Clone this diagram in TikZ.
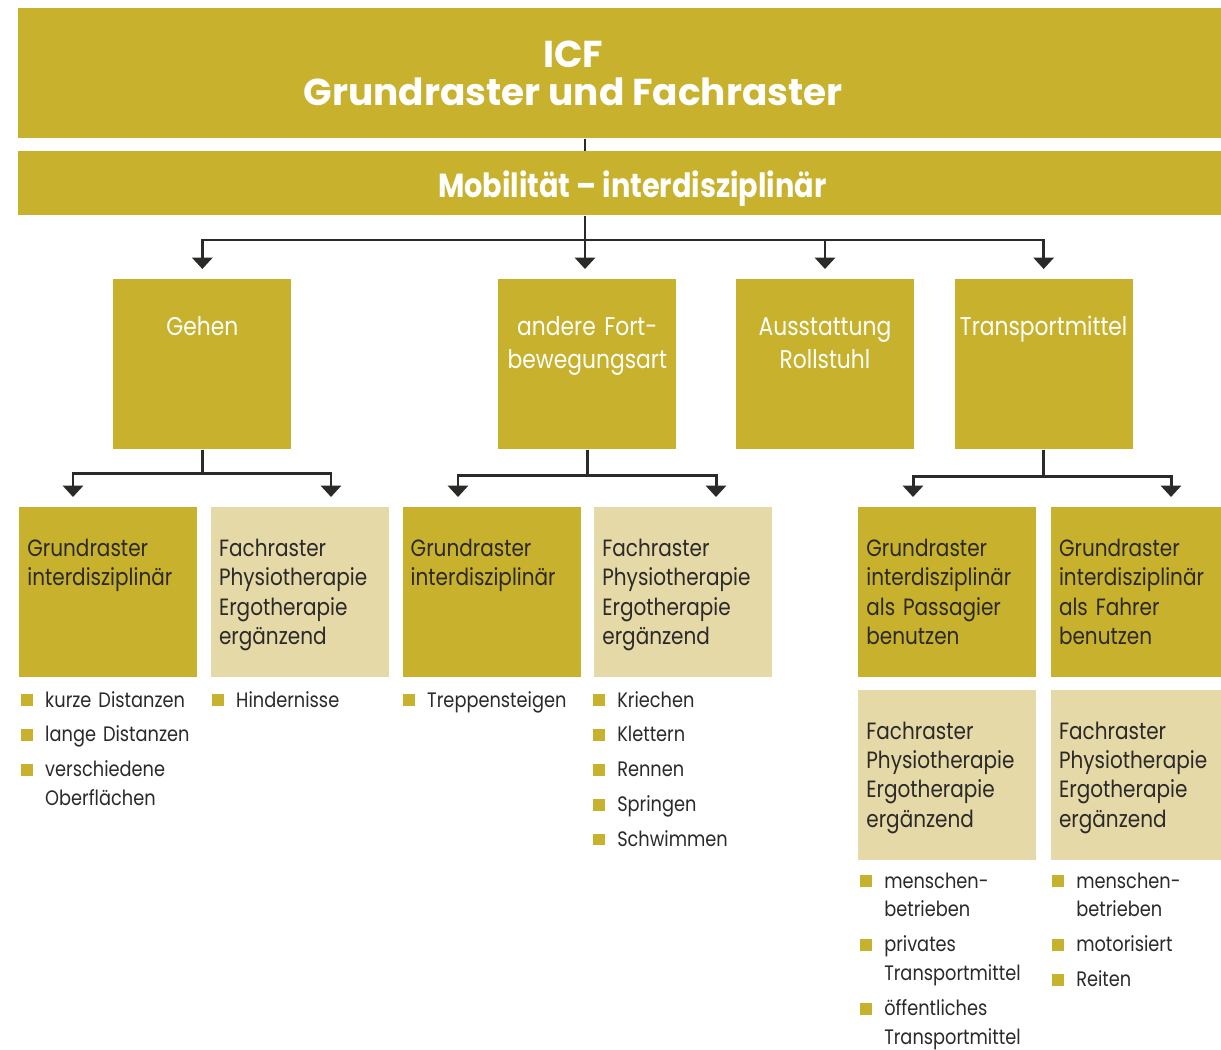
\documentclass[tikz,border=0pt]{standalone}
\usepackage{fontspec}
\setmainfont{Poppins}
\newfontfamily\schmal{Poppins}[FakeStretch=0.85, Ligatures=TeX]
\newfontfamily\schmalfett{Poppins}[FakeStretch=0.86, UprightFont=*-Bold, Ligatures=TeX]
\usetikzlibrary{positioning}
\usetikzlibrary{arrows.meta}

\definecolor{gold}{RGB}{200,177,44}
\definecolor{sand}{RGB}{229,217,167}
\definecolor{tinte}{RGB}{43,42,41}

\newcommand{\bul}{\makebox[13.6pt][l]{\textcolor{gold}{\rule[0.4pt]{6.8pt}{6.8pt}}}}
\newcommand{\ein}{\hspace*{13.6pt}}

\begin{document}
\begin{tikzpicture} [x=0.02cm, y=-0.02cm,
    kopf/.style = {fill=gold, text=white, inner sep=0, minimum width=24.56cm, anchor=north west},
    oben/.style = {fill=gold, text=white, inner xsep=0, inner ysep=0, text width=3.56cm, align=center,
        text height=1.12cm, text depth=2.28cm, font=\schmal\fontsize{14.6}{18.7}\selectfont, anchor=north west},
    grund/.style = {fill=gold, text=tinte, inner xsep=0.16cm, inner ysep=0, text width=3.24cm, align=left,
        text height=0.98cm, text depth=2.42cm, font=\schmal\fontsize{13.4}{16.7}\selectfont, anchor=north west},
    fach/.style = {grund, fill=sand},
    liste/.style = {text=tinte, inner sep=0, text width=3.4cm, align=left, anchor=base west,
        font=\schmal\fontsize{11.9}{16.4}\selectfont},
    linie/.style = {draw=tinte, line width=1.7pt},
    pfeil/.style = {linie, -{Triangle[width=11.5pt, length=6.5pt]}, shorten >=0.2cm}]
        \useasboundingbox (0,0) rectangle (1221,1050);

        %Kopf
        \node[kopf, minimum height=2.6cm,
            label={[name=titel, xshift=-1.18cm, text=white, align=center,
                font=\fontsize{21.3}{21.5}\selectfont\bfseries]center:ICF\\Grundraster und Fachraster}]
            (title) at (18,8) {};
        \node[kopf, text height=0.92cm, text depth=0.36cm, font=\schmalfett\fontsize{19}{20}\selectfont]
            (mobil) at (18,151) {Mobilität – interdisziplinär};

        %Ebene 2
        \node[oben] (gehen) at (113,279) {Gehen};
        \node[oben] (fort) at (498,279) {andere Fort-\\bewegungsart};
        \node[oben, right = 1.18cm of fort] (roll) {Ausstattung\\Rollstuhl};
        \node[oben, right = 0.8cm of roll] (trans) {Transportmittel};

        %Ebene 3
        \node[grund] (g1) at (19,507) {Grundraster\\interdisziplinär};
        \node[fach, right = 0.26cm of g1] (f1) {Fachraster\\Physiotherapie\\Ergotherapie\\ergänzend};
        \node[grund, right = 0.26cm of f1] (g2) {Grundraster\\interdisziplinär};
        \node[fach, right = 0.26cm of g2] (f2) {Fachraster\\Physiotherapie\\Ergotherapie\\ergänzend};
        \node[grund] (gp) at (858,507) {Grundraster\\interdisziplinär\\als Passagier\\benutzen};
        \node[grund, right = 0.28cm of gp] (gf) {Grundraster\\interdisziplinär\\als Fahrer\\benutzen};

        %Ebene 4
        \node[fach, below = 0.24cm of gp] (fp) {Fachraster\\Physiotherapie\\Ergotherapie\\ergänzend};
        \node[fach, below = 0.24cm of gf] (ff) {Fachraster\\Physiotherapie\\Ergotherapie\\ergänzend};

        %Listen
        \node[liste] (l1) at (21,707) {\bul kurze Distanzen\\[3.4pt]\bul lange Distanzen\\[3.4pt]\bul verschiedene\\\ein Oberflächen};
        \node[liste] (l2) at (212,707) {\bul Hindernisse};
        \node[liste] (l3) at (403,707) {\bul Treppensteigen};
        \node[liste] (l4) at (593,707) {\bul Kriechen\\[3.4pt]\bul Klettern\\[3.4pt]\bul Rennen\\[3.4pt]\bul Springen\\[3.4pt]\bul Schwimmen};
        \node[liste] (l5) at (860,888) {\bul menschen-\\\ein betrieben\\[3.4pt]\bul privates\\\ein Transportmittel\\[3.4pt]\bul öffentliches\\\ein Transportmittel};
        \node[liste] (l6) at (1052,888) {\bul menschen-\\\ein betrieben\\[3.4pt]\bul motorisiert\\[3.4pt]\bul Reiten};

        %Verbindungen
        \coordinate (bus) at (585,240);
        \coordinate (a1) at (73,507);
        \coordinate (a2) at (331,507);
        \coordinate (a3) at (458,507);
        \coordinate (a4) at (716,507);
        \coordinate (a5) at (913,507);
        \coordinate (a6) at (1171,507);

        \draw[linie] (title.south -| bus) -- (mobil.north -| bus);
        \draw[pfeil] (mobil.south -| bus) -- (bus) -| (gehen.north);
        \draw[pfeil] (mobil.south -| bus) -- (bus) -- (fort.north -| bus);
        \draw[pfeil] (bus) -| (roll.north);
        \draw[pfeil] (bus) -| (trans.north);

        \draw[pfeil] (gehen.south) -- ++(0,24) -| (a1);
        \draw[pfeil] (gehen.south) -- ++(0,24) -| (a2);
        \draw[pfeil] (fort.south) -- ++(0,26) -| (a3);
        \draw[pfeil] (fort.south) -- ++(0,26) -| (a4);
        \draw[pfeil] (trans.south) -- ++(0,27) -| (a5);
        \draw[pfeil] (trans.south) -- ++(0,27) -| (a6);

    \end{tikzpicture}
\end{document}
